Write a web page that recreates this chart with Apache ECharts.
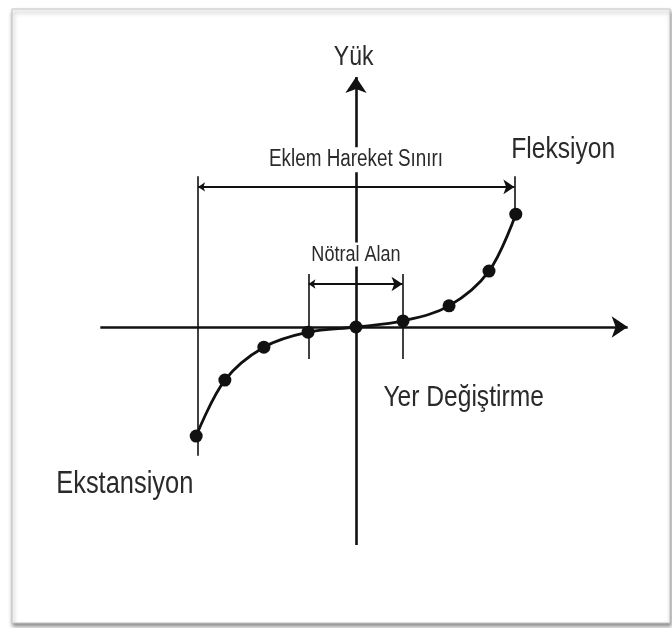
<!DOCTYPE html>
<html>
<head>
<meta charset="utf-8">
<script src="https://cdn.jsdelivr.net/npm/echarts@6/dist/echarts.min.js"></script>
<style>
html,body{margin:0;padding:0;background:#ffffff;}
#chart{width:672px;height:628px;}
</style>
</head>
<body>
<div id="chart"></div>
<script>
// ---- data (units: arbitrary displacement / load units) ----
const displacement = [-3.40, -2.79, -1.96, -1.02, 0, 1.00, 1.98, 2.83, 3.40];
const load         = [-2.32, -1.13, -0.43, -0.11, 0, 0.13, 0.45, 1.19, 2.40];

// axis extents (arrows)
const xAxisRange = [-5.44, 5.78];
const yAxisRange = [-4.64, 5.32];

// Eklem Hareket Sınırı (range of motion)
const romLimits = [-3.36, 3.37];
const romArrowLevel = 2.98;
const romTickTop = 3.21;
const romLeftBottom = -2.74;

// Nötral Alan (neutral zone)
const neutralLimits = [-1.01, 0.99];
const neutralArrowLevel = 0.915;
const neutralTickTop = 1.13;
const neutralTickBottom = -0.68;

// text labels
const labelTexts = ['Yük', 'Eklem Hareket Sınırı', 'Nötral Alan', 'Fleksiyon', 'Yer Değiştirme', 'Ekstansiyon'];
const labelX     = [-0.05, 0.0, 0.0, 4.41, 2.29, -4.92];
const labelY     = [5.74, 3.56, 1.54, 3.77, -1.51, -3.36];
const labelSizes = [28, 23, 22, 30, 30, 31];
const labelBg    = [false, true, true, false, false, false];

const FONT = "'Liberation Sans', Arial, sans-serif";
const INK = '#111111';
const TEXT_INK = '#2a2a2a';
const NARROW = 0.82;

const chart = echarts.init(document.getElementById('chart'), null, {renderer: 'canvas'});

const curveData = displacement.map((x, i) => [x, load[i]]);

const option = {
  animation: false,
  backgroundColor: '#ffffff',
  grid: {
    left: 12, right: 2, top: 9, bottom: 5,
    show: true,
    backgroundColor: '#ffffff',
    borderColor: '#c4c4c4',
    borderWidth: 1,
    shadowColor: 'rgba(0,0,0,0.45)',
    shadowBlur: 4,
    shadowOffsetX: 1,
    shadowOffsetY: 3
  },
  xAxis: {
    type: 'value', min: -7.319, max: 6.681, show: false,
    splitLine: {show: false}
  },
  yAxis: {
    type: 'value', min: -6.298, max: 6.766, show: false,
    splitLine: {show: false}
  },
  series: [
    // main axes with arrowheads
    {
      type: 'lines', coordinateSystem: 'cartesian2d', silent: true,
      symbol: ['none', 'arrow'], symbolSize: [11, 16],
      lineStyle: {color: INK, width: 2.6, opacity: 1},
      data: [
        {coords: [[xAxisRange[0], 0], [xAxisRange[1], 0]]},
        {coords: [[0, yAxisRange[0]], [0, yAxisRange[1]]]}
      ],
      z: 2
    },
    // double-headed dimension arrows
    {
      type: 'lines', coordinateSystem: 'cartesian2d', silent: true,
      symbol: ['arrow', 'arrow'], symbolSize: [7, 11],
      lineStyle: {color: INK, width: 1.8, opacity: 1},
      data: [
        {coords: [[romLimits[0], romArrowLevel], [romLimits[1], romArrowLevel]]},
        {coords: [[neutralLimits[0], neutralArrowLevel], [neutralLimits[1], neutralArrowLevel]]}
      ],
      z: 2
    },
    // extension lines (plain)
    {
      type: 'lines', coordinateSystem: 'cartesian2d', silent: true,
      symbol: ['none', 'none'],
      lineStyle: {color: INK, width: 1.6, opacity: 1},
      data: [
        {coords: [[romLimits[0], romTickTop], [romLimits[0], romLeftBottom]]},
        {coords: [[romLimits[1], romTickTop], [romLimits[1], load[load.length - 1]]]},
        {coords: [[neutralLimits[0], neutralTickTop], [neutralLimits[0], neutralTickBottom]]},
        {coords: [[neutralLimits[1], neutralTickTop], [neutralLimits[1], neutralTickBottom]]}
      ],
      z: 2
    },
    // load-displacement curve
    {
      type: 'line', data: curveData, smooth: 0.35,
      symbol: 'circle', symbolSize: 13,
      itemStyle: {color: INK},
      lineStyle: {color: INK, width: 2.8},
      silent: true, z: 5
    },
    // text annotations (condensed, like the original typeface)
    {
      type: 'custom', silent: true, z: 6,
      data: labelTexts.map((t, i) => [labelX[i], labelY[i], i]),
      renderItem: function (params, api) {
        const i = api.value(2);
        const p = api.coord([api.value(0), api.value(1)]);
        const style = {
          text: labelTexts[i],
          fontFamily: FONT,
          fontSize: labelSizes[i],
          fill: TEXT_INK,
          align: 'center',
          verticalAlign: 'middle'
        };
        if (labelBg[i]) {
          style.backgroundColor = '#ffffff';
          style.padding = [1, 3, 1, 3];
        }
        return {
          type: 'text',
          x: p[0], y: p[1],
          scaleX: NARROW, scaleY: 1,
          style: style
        };
      }
    }
  ]
};
chart.setOption(option);
</script>
</body>
</html>
